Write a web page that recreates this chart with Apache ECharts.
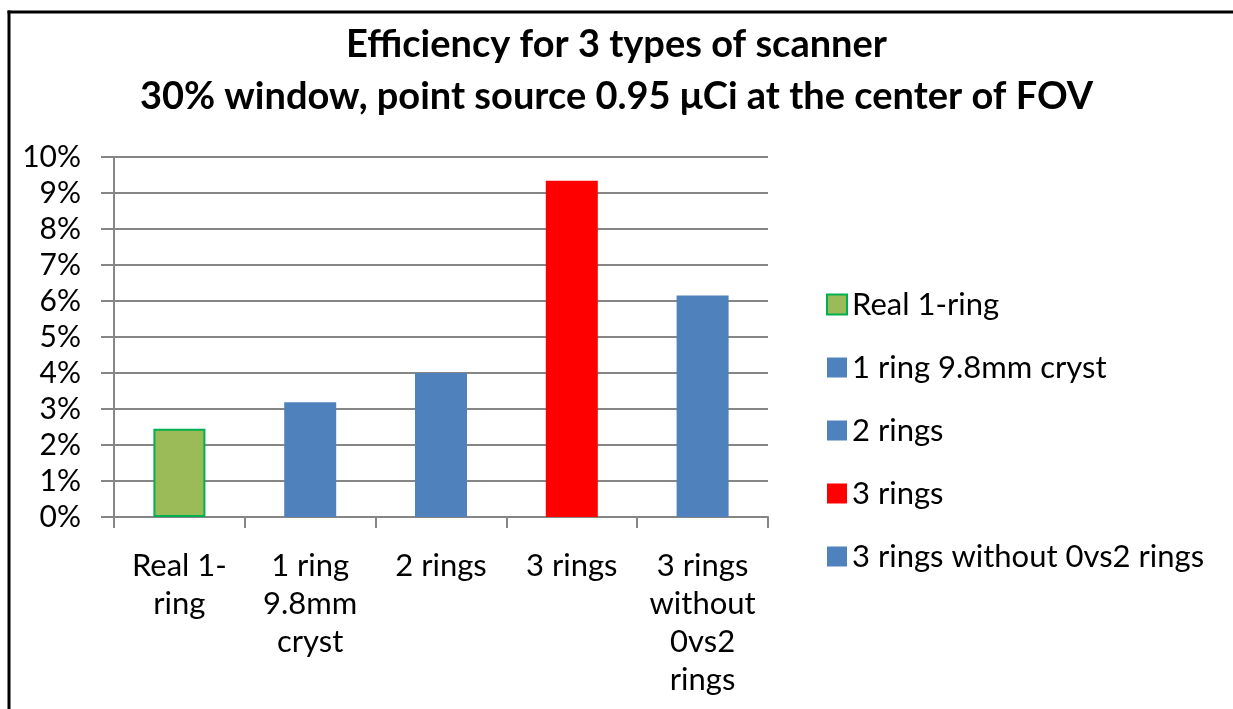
<!DOCTYPE html>
<html>
<head>
<meta charset="utf-8">
<title>Efficiency for 3 types of scanner</title>
<script src="https://cdn.jsdelivr.net/npm/echarts@6/dist/echarts.min.js"></script>
<style>
  html, body { margin: 0; padding: 0; background: #fff; overflow: hidden; }
  #main { width: 1233px; height: 709px; }
</style>
</head>
<body>
<div id="main"></div>
<script>
// scanner types, one bar each
const categories = ['Real 1-ring', '1 ring 9.8mm cryst', '2 rings', '3 rings', '3 rings without 0vs2 rings'];
const axisLabels = ['Real 1-\nring', '1 ring\n9.8mm\ncryst', '2 rings', '3 rings', '3 rings\nwithout\n0vs2\nrings'];
const efficiency = [0.0245, 0.0319, 0.0400, 0.0934, 0.0615];
const barColors = ['#9BBB59', '#4F81BD', '#4F81BD', '#FF0000', '#4F81BD'];
const borderColors = ['#00B050', '#4F81BD', '#4F81BD', '#FF0000', '#4F81BD'];

const font = 'Lato, "Open Sans", sans-serif';
const chart = echarts.init(document.getElementById('main'), null, { renderer: 'canvas' });

// one series per bar so the legend lists every scanner
const series = categories.map(function (name, i) {
  return {
    name: name,
    type: 'bar',
    stack: 'all',
    barWidth: 52,
    data: categories.map(function (c, j) { return j === i ? efficiency[i] : '-'; }),
    itemStyle: {
      color: barColors[i],
      borderColor: borderColors[i],
      borderWidth: i === 0 ? 2 : 0
    }
  };
});

const option = {
  animation: false,
  backgroundColor: '#fff',
  textStyle: { fontFamily: font },
  title: {
    text: 'Efficiency for 3 types of scanner\n30% window, point source 0.95 \u03bcCi at the center of FOV',
    left: 'center',
    top: 14,
    textStyle: {
      fontFamily: font,
      fontSize: 38,
      fontWeight: 'bold',
      lineHeight: 52,
      color: '#000'
    }
  },
  // chart frame: only the left and top edges fall inside the picture
  graphic: [{
    type: 'line',
    shape: { x1: 9, y1: 10.5, x2: 9, y2: 709 },
    style: { stroke: '#000', lineWidth: 3 },
    silent: true
  }, {
    type: 'line',
    shape: { x1: 7.5, y1: 12, x2: 1233, y2: 12 },
    style: { stroke: '#000', lineWidth: 3 },
    silent: true
  }],
  legend: {
    orient: 'vertical',
    left: 821,
    top: 284,
    icon: 'rect',
    itemWidth: 20,
    itemHeight: 20,
    itemGap: 32,
    data: categories,
    textStyle: {
      fontFamily: font,
      fontSize: 31,
      lineHeight: 30,
      color: '#000'
    }
  },
  grid: {
    left: 114,
    right: 465,
    top: 157,
    bottom: 192,
    containLabel: false
  },
  xAxis: {
    type: 'category',
    data: categories,
    axisLine: { lineStyle: { color: '#868686', width: 2 } },
    axisTick: { show: true, length: 11, lineStyle: { color: '#868686', width: 2 } },
    axisLabel: {
      margin: 30,
      fontFamily: font,
      fontSize: 31,
      lineHeight: 38,
      color: '#000',
      interval: 0,
      formatter: function (value, idx) { return axisLabels[idx]; }
    }
  },
  yAxis: {
    type: 'value',
    min: 0,
    max: 0.1,
    interval: 0.01,
    axisLine: { show: true, lineStyle: { color: '#868686', width: 2 } },
    axisTick: { show: true, length: 13, lineStyle: { color: '#868686', width: 2 } },
    splitLine: { lineStyle: { color: '#868686', width: 2 } },
    axisLabel: {
      margin: 33,
      fontFamily: font,
      fontSize: 30,
      color: '#000',
      formatter: function (v) { return Math.round(v * 100) + '%'; }
    }
  },
  series: series
};

chart.setOption(option);
</script>
</body>
</html>
